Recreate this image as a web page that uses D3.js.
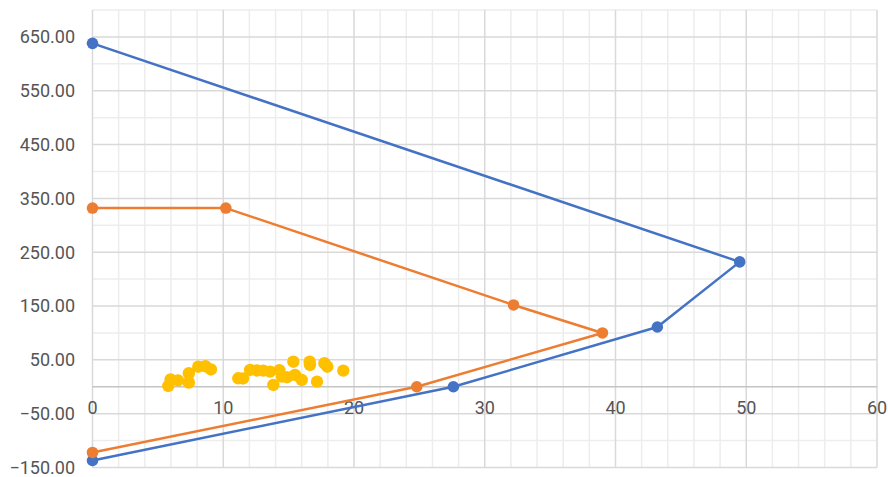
<!DOCTYPE html>
<html>
<head>
<meta charset="utf-8">
<script src="https://cdn.jsdelivr.net/npm/d3@7/dist/d3.min.js"></script>
<style>
  html, body { margin: 0; padding: 0; background: #ffffff; }
  svg { display: block; }
  text { font-family: Roboto, "Liberation Sans", Arial, sans-serif; fill: #555555; }
</style>
</head>
<body>
<svg id="chart" width="888" height="477"></svg>
<script>
// Series 1 (blue): polyline going out and back
const blueX = [0, 49.5, 43.2, 27.6, 0];
const blueY = [638, 232, 111, 0, -137];

// Series 2 (orange)
const orangeX = [0, 10.2, 32.2, 39.0, 24.8, 0];
const orangeY = [332, 332, 152, 100, 0, -122];

// Series 3 (yellow): scattered points, markers only
const yellowX = [5.80, 5.97, 6.54, 7.37, 7.37, 8.09, 8.64, 9.06, 11.15, 11.51,
                 12.05, 12.58, 13.06, 13.58, 13.83, 14.29, 14.49, 14.88, 15.36, 15.49,
                 16.00, 16.61, 16.63, 17.17, 17.74, 17.96, 19.18];
const yellowY = [1.5, 13.6, 11.9, 7.6, 25.1, 37.3, 38.1, 32.1, 15.8, 15.4,
                 31.2, 30.3, 29.9, 28.1, 3.3, 30.7, 18.8, 17.7, 46.6, 21.9,
                 12.6, 46.6, 40.5, 9.5, 43.7, 37.3, 29.9];

// Axis ticks
const xTicks = [0, 10, 20, 30, 40, 50, 60];
const yTicks = [-150, -50, 50, 150, 250, 350, 450, 550, 650];
const xDomain = [0, 60];
const yDomain = [-150, 700];

(function () {
  const svg = d3.select("#chart");
  const plotLeft = 92.5, plotRight = 877, plotTop = 10, plotBottom = 467.5;

  const x = d3.scaleLinear().domain(xDomain).range([plotLeft, plotRight]);
  const y = d3.scaleLinear().domain(yDomain).range([plotBottom, plotTop]);

  const grid = svg.append("g");

  // minor vertical gridlines every 2 units
  grid.selectAll("line.vminor")
    .data(d3.range(xDomain[0], xDomain[1] + 0.001, 2).filter(v => v % 10 !== 0))
    .join("line")
    .attr("x1", d => x(d)).attr("x2", d => x(d))
    .attr("y1", plotTop).attr("y2", plotBottom)
    .attr("stroke", "#ededed").attr("stroke-width", 1.5);

  // minor horizontal gridlines every 50 units (between labelled ones)
  grid.selectAll("line.hminor")
    .data(d3.range(yDomain[0], yDomain[1] + 0.001, 50).filter(v => !yTicks.includes(v) && v !== 0))
    .join("line")
    .attr("x1", plotLeft).attr("x2", plotRight)
    .attr("y1", d => y(d)).attr("y2", d => y(d))
    .attr("stroke", "#ededed").attr("stroke-width", 1.5);

  // major vertical gridlines
  grid.selectAll("line.vmajor")
    .data(xTicks)
    .join("line")
    .attr("x1", d => x(d)).attr("x2", d => x(d))
    .attr("y1", plotTop).attr("y2", plotBottom)
    .attr("stroke", "#d9d9d9").attr("stroke-width", 1.5);

  // major horizontal gridlines
  grid.selectAll("line.hmajor")
    .data(yTicks)
    .join("line")
    .attr("x1", plotLeft).attr("x2", plotRight)
    .attr("y1", d => y(d)).attr("y2", d => y(d))
    .attr("stroke", "#d9d9d9").attr("stroke-width", 1.5);

  // zero baseline
  grid.append("line")
    .attr("x1", plotLeft).attr("x2", plotRight)
    .attr("y1", y(0)).attr("y2", y(0))
    .attr("stroke", "#c4c4c4").attr("stroke-width", 1.5);

  // y-axis labels
  svg.append("g").selectAll("text")
    .data(yTicks)
    .join("text")
    .attr("x", 75)
    .attr("y", d => y(d))
    .attr("dy", "0.35em")
    .attr("text-anchor", "end")
    .style("font-size", "18px")
    .text(d => d3.format(".2f")(d));

  // x-axis labels, just under the zero line
  svg.append("g").selectAll("text")
    .data(xTicks)
    .join("text")
    .attr("x", d => x(d))
    .attr("y", y(0) + 21)
    .attr("dy", "0.35em")
    .attr("text-anchor", "middle")
    .style("font-size", "18px")
    .text(d => d);

  const line = d3.line().x(d => x(d[0])).y(d => y(d[1]));

  function drawSeries(xs, ys, color, withLine, r) {
    const pts = xs.map((v, i) => [v, ys[i]]);
    const g = svg.append("g");
    if (withLine) {
      g.append("path")
        .datum(pts)
        .attr("d", line)
        .attr("fill", "none")
        .attr("stroke", color)
        .attr("stroke-width", 2.5)
        .attr("stroke-linejoin", "round");
    }
    g.selectAll("circle")
      .data(pts)
      .join("circle")
      .attr("cx", d => x(d[0]))
      .attr("cy", d => y(d[1]))
      .attr("r", r)
      .attr("fill", color);
  }

  drawSeries(blueX, blueY, "#4472c4", true, 5.8);
  drawSeries(orangeX, orangeY, "#ed7d31", true, 5.8);
  drawSeries(yellowX, yellowY, "#ffc000", false, 6.2);
})();
</script>
</body>
</html>
